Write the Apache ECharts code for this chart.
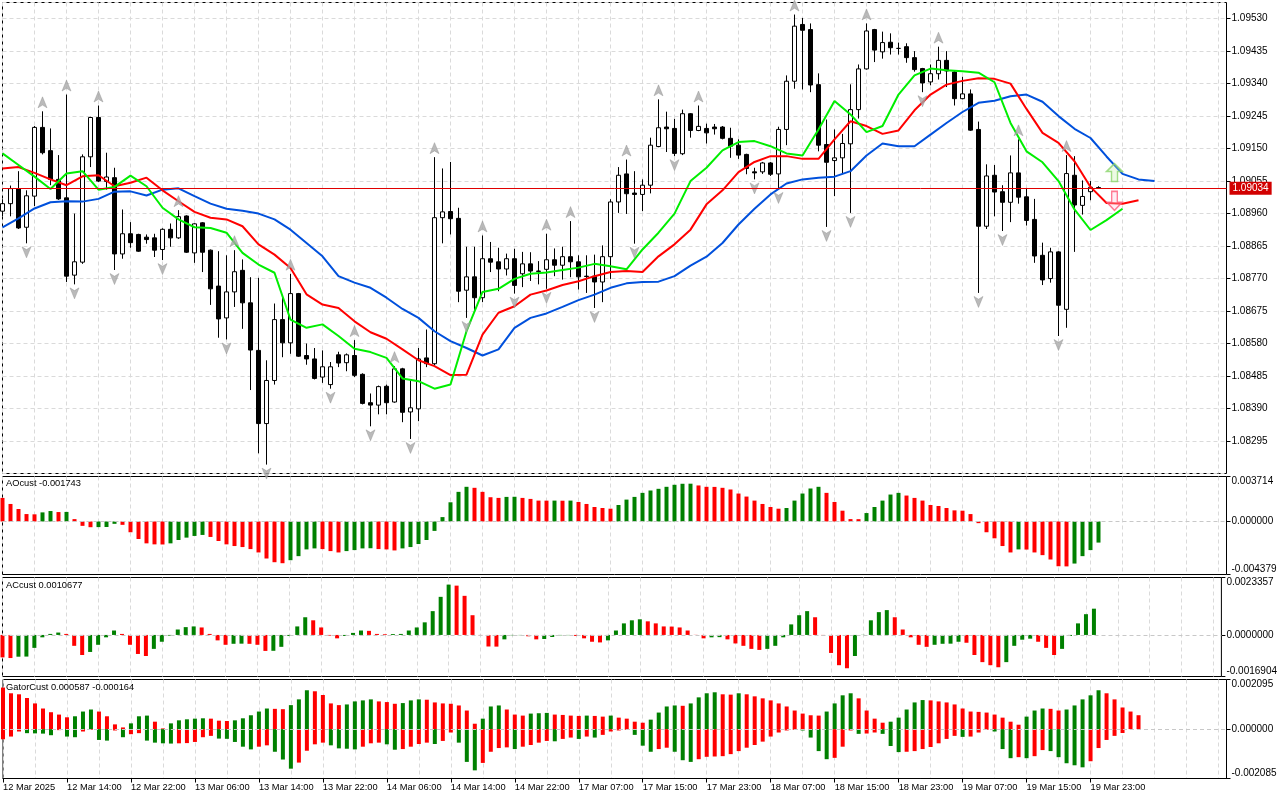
<!DOCTYPE html>
<html><head><meta charset="utf-8">
<script src="https://cdn.jsdelivr.net/npm/echarts/dist/echarts.min.js"></script>
<style>html,body{margin:0;padding:0;background:#fff}#c{width:1280px;height:800px}</style>
</head><body><div id="c"></div>
<script>
// ---------- DATA ----------
const tickLabels = ["12 Mar 2025","12 Mar 14:00","12 Mar 22:00","13 Mar 06:00","13 Mar 14:00","13 Mar 22:00",
  "14 Mar 06:00","14 Mar 14:00","14 Mar 22:00","17 Mar 07:00","17 Mar 15:00","17 Mar 23:00",
  "18 Mar 07:00","18 Mar 15:00","18 Mar 23:00","19 Mar 07:00","19 Mar 15:00","19 Mar 23:00"];

const open = [1.08967,1.08989,1.09033,1.08920,1.09011,1.09212,1.09144,1.09060,1.09006,1.08780,
1.08818,1.09126,1.09241,1.09054,1.09065,1.08842,1.08901,1.08899,1.08891,1.08889,
1.08855,1.08914,1.08889,1.08953,1.08845,1.08933,1.08853,1.08748,1.08655,1.08731,
1.08794,1.08699,1.08560,1.08346,1.08472,1.08650,1.08582,1.08726,1.08545,1.08535,
1.08482,1.08460,1.08547,1.08524,1.08545,1.08490,1.08407,1.08400,1.08455,1.08409,
1.08506,1.08380,1.08389,1.08538,1.08521,1.08948,1.08966,1.08946,1.08736,1.08775,
1.08714,1.08828,1.08819,1.08798,1.08828,1.08784,1.08813,1.08792,1.08797,1.08825,
1.08809,1.08834,1.08819,1.08777,1.08777,1.08760,1.08834,1.08994,1.09076,1.09020,
1.09016,1.09043,1.09156,1.09213,1.09209,1.09135,1.09252,1.09203,1.09209,1.09213,
1.09213,1.09180,1.09160,1.09133,1.09082,1.09082,1.09108,1.09076,1.09206,1.09347,
1.09513,1.09498,1.09337,1.09162,1.09115,1.09123,1.09164,1.09264,1.09383,1.09498,
1.09433,1.09461,1.09443,1.09448,1.09416,1.09384,1.09345,1.09369,1.09408,1.09374,
1.09296,1.09310,1.09206,1.08923,1.09072,1.09024,1.08993,1.09079,1.09009,1.08943,
1.08838,1.08770,1.08848,1.08680,1.09072,1.08984,1.09024,1.09036];
const close = [1.08989,1.09033,1.08918,1.09012,1.09212,1.09138,1.09060,1.09003,1.08777,1.08819,
1.09126,1.09241,1.09055,1.09067,1.08842,1.08901,1.08875,1.08850,1.08884,1.08853,
1.08914,1.08889,1.08951,1.08847,1.08930,1.08847,1.08740,1.08652,1.08731,1.08790,
1.08699,1.08561,1.08346,1.08472,1.08650,1.08582,1.08726,1.08543,1.08535,1.08478,
1.08512,1.08512,1.08523,1.08547,1.08487,1.08405,1.08400,1.08454,1.08407,1.08506,
1.08379,1.08392,1.08535,1.08521,1.08948,1.08965,1.08945,1.08733,1.08775,1.08714,
1.08828,1.08818,1.08798,1.08828,1.08750,1.08813,1.08792,1.08791,1.08825,1.08809,
1.08834,1.08819,1.08775,1.08776,1.08760,1.08834,1.08994,1.09072,1.09018,1.09016,
1.09043,1.09160,1.09211,1.09208,1.09136,1.09252,1.09203,1.09215,1.09196,1.09208,
1.09180,1.09157,1.09131,1.09092,1.09079,1.09108,1.09075,1.09206,1.09347,1.09508,
1.09496,1.09336,1.09160,1.09110,1.09123,1.09165,1.09264,1.09383,1.09494,1.09438,
1.09460,1.09445,1.09443,1.09416,1.09381,1.09342,1.09369,1.09408,1.09377,1.09296,
1.09310,1.09204,1.08923,1.09070,1.09023,1.08993,1.09079,1.09008,1.08940,1.08836,
1.08766,1.08848,1.08692,1.09077,1.08985,1.09010,1.09037,1.09034];
const low = [1.08952,1.08952,1.08915,1.08873,1.08982,1.09133,1.09043,1.09000,1.08760,1.08753,
1.08813,1.09096,1.09052,1.09030,1.08795,1.08828,1.08860,1.08848,1.08872,1.08833,
1.08824,1.08863,1.08886,1.08845,1.08816,1.08789,1.08693,1.08597,1.08592,1.08687,
1.08623,1.08444,1.08259,1.08226,1.08460,1.08540,1.08550,1.08541,1.08518,1.08475,
1.08465,1.08448,1.08511,1.08499,1.08482,1.08402,1.08338,1.08373,1.08373,1.08407,
1.08350,1.08301,1.08353,1.08511,1.08516,1.08873,1.08899,1.08701,1.08655,1.08670,
1.08701,1.08789,1.08733,1.08779,1.08726,1.08745,1.08763,1.08753,1.08740,1.08777,
1.08767,1.08774,1.08738,1.08728,1.08684,1.08701,1.08769,1.08962,1.08959,1.08872,
1.08967,1.09019,1.09154,1.09140,1.09128,1.09131,1.09182,1.09201,1.09165,1.09191,
1.09177,1.09123,1.09120,1.09075,1.09060,1.09076,1.09070,1.09032,1.09160,1.09325,
1.09323,1.09315,1.09142,1.08921,1.09011,1.09075,1.08962,1.09238,1.09381,1.09403,
1.09413,1.09425,1.09425,1.09401,1.09375,1.09315,1.09335,1.09352,1.09330,1.09276,
1.09294,1.09202,1.08728,1.08915,1.08952,1.08909,1.08935,1.08989,1.08925,1.08816,
1.08751,1.08758,1.08602,1.08626,1.08848,1.08957,1.08999,1.09032];
const high = [1.09002,1.09042,1.09084,1.09028,1.09216,1.09259,1.09209,1.09131,1.09308,1.08960,
1.09133,1.09243,1.09276,1.09138,1.09094,1.08972,1.08935,1.08901,1.08899,1.08901,
1.08917,1.08931,1.08970,1.08955,1.08932,1.08935,1.08855,1.08850,1.08838,1.08853,
1.08826,1.08774,1.08772,1.08531,1.08697,1.08719,1.08784,1.08728,1.08580,1.08567,
1.08560,1.08526,1.08556,1.08551,1.08590,1.08493,1.08434,1.08457,1.08460,1.08514,
1.08509,1.08475,1.08567,1.08621,1.09125,1.09092,1.09111,1.08977,1.08863,1.08863,
1.08896,1.08877,1.08860,1.08843,1.08857,1.08848,1.08847,1.08821,1.08901,1.08858,
1.08863,1.08938,1.08838,1.08838,1.08840,1.08867,1.09002,1.09096,1.09118,1.09084,
1.09060,1.09182,1.09294,1.09258,1.09237,1.09264,1.09254,1.09276,1.09223,1.09222,
1.09216,1.09211,1.09177,1.09135,1.09094,1.09111,1.09111,1.09214,1.09364,1.09542,
1.09532,1.09516,1.09370,1.09235,1.09206,1.09193,1.09338,1.09396,1.09516,1.09500,
1.09492,1.09487,1.09460,1.09458,1.09435,1.09386,1.09396,1.09448,1.09435,1.09377,
1.09360,1.09323,1.09229,1.09104,1.09102,1.09043,1.09130,1.09177,1.09035,1.09003,
1.08875,1.08860,1.08850,1.09131,1.09128,1.09057,1.09055,1.09040];

// Alligator lines, one value every second bar (bar 0, 2, 4, ...)
const lips = [1.09136,1.09102,1.09068,1.09032,1.09077,1.09084,1.09030,1.09038,1.09071,1.09040,
1.08977,1.08943,1.08920,1.08918,1.08904,1.08845,1.08811,1.08787,1.08650,1.08626,
1.08636,1.08602,1.08565,1.08555,1.08538,1.08478,1.08470,1.08448,1.08460,1.08616,
1.08731,1.08740,1.08769,1.08784,1.08788,1.08795,1.08802,1.08813,1.08806,1.08797,
1.08855,1.08904,1.08960,1.09055,1.09094,1.09145,1.09169,1.09172,1.09157,1.09136,
1.09130,1.09206,1.09289,1.09250,1.09198,1.09216,1.09308,1.09364,1.09384,1.09379,
1.09376,1.09372,1.09344,1.09225,1.09142,1.09110,1.09055,1.08972,1.08912,1.08941,1.08974];
const teeth = [1.09092,1.09096,1.09079,1.09060,1.09043,1.09069,1.09072,1.09040,1.09050,1.09065,
1.09028,1.08996,1.08965,1.08948,1.08943,1.08923,1.08870,1.08840,1.08801,1.08724,
1.08694,1.08684,1.08645,1.08613,1.08594,1.08563,1.08531,1.08514,1.08488,1.08489,
1.08606,1.08670,1.08689,1.08723,1.08735,1.08751,1.08762,1.08777,1.08789,1.08792,
1.08789,1.08835,1.08870,1.08913,1.08987,1.09028,1.09081,1.09111,1.09128,1.09128,
1.09120,1.09120,1.09177,1.09230,1.09216,1.09193,1.09203,1.09262,1.09308,1.09337,
1.09348,1.09356,1.09354,1.09340,1.09266,1.09196,1.09167,1.09113,1.09038,1.08991,1.08989,1.08999];
const jaw = [1.08920,1.08946,1.08975,1.08993,1.08996,1.08995,1.09003,1.09024,1.09025,1.09013,
1.09030,1.09034,1.09011,1.08989,1.08974,1.08968,1.08960,1.08943,1.08913,1.08874,
1.08835,1.08777,1.08758,1.08743,1.08714,1.08681,1.08655,1.08616,1.08587,1.08567,
1.08545,1.08563,1.08626,1.08655,1.08668,1.08687,1.08707,1.08723,1.08743,1.08756,
1.08760,1.08761,1.08777,1.08808,1.08834,1.08874,1.08928,1.08974,1.09016,1.09048,
1.09060,1.09065,1.09068,1.09084,1.09130,1.09165,1.09157,1.09157,1.09191,1.09225,
1.09257,1.09284,1.09290,1.09303,1.09308,1.09287,1.09245,1.09208,1.09181,1.09127,
1.09076,1.09060,1.09055];

const fractalUp = [5,8,12,22,29,36,44,49,54,60,68,71,78,82,87,99,108,117,127,133];
const fractalDown = [3,9,14,20,28,33,41,46,51,58,64,68,74,79,84,94,97,103,106,115,122,125,132];

const lastPrice = 1.09034;
const signalUp = [139, 1.09080];
const signalDown = [139, 1.08997];

const ao = [0.001946,0.001446,0.001029,0.000612,0.000590,0.000751,0.000862,0.000778,0.000790,0.000195,
-0.000361,-0.000473,-0.000465,-0.000455,-0.000195,-0.000278,-0.000890,-0.001446,-0.001807,-0.001890,
-0.001900,-0.001807,-0.001529,-0.001334,-0.001195,-0.001112,-0.001279,-0.001612,-0.001890,-0.002029,
-0.002113,-0.002280,-0.002558,-0.003058,-0.003364,-0.003447,-0.003197,-0.002863,-0.002307,-0.002224,
-0.002280,-0.002446,-0.002558,-0.002446,-0.002363,-0.002224,-0.002210,-0.002280,-0.002307,-0.002391,
-0.002224,-0.002113,-0.001863,-0.001529,-0.000778,0.000361,0.001585,0.002446,0.002863,0.002780,
0.002446,0.002002,0.001946,0.002029,0.002040,0.001946,0.001863,0.001724,0.001720,0.001724,
0.001715,0.001724,0.001612,0.001446,0.001195,0.001112,0.001056,0.001362,0.001807,0.002029,
0.002363,0.002558,0.002697,0.002863,0.003030,0.003114,0.003120,0.002975,0.002863,0.002855,
0.002780,0.002641,0.002307,0.002057,0.001724,0.001446,0.001195,0.001056,0.001112,0.001724,
0.002307,0.002724,0.002863,0.002363,0.001612,0.000890,0.000195,0.000190,0.000695,0.001195,
0.001724,0.002224,0.002363,0.002141,0.001946,0.001724,0.001362,0.001279,0.001112,0.000917,
0.000890,0.000612,-0.000139,-0.000890,-0.001390,-0.002029,-0.002558,-0.002307,-0.002320,-0.002558,
-0.002780,-0.003141,-0.003697,-0.003710,-0.003475,-0.002863,-0.002363,-0.001743];

const ac = [-0.000913,-0.000940,-0.000885,-0.000880,-0.000526,-0.000097,0.000041,0.000097,0.000041,-0.000443,
-0.000816,-0.000692,-0.000401,-0.000097,0.000180,0.000041,-0.000401,-0.000774,-0.000857,-0.000567,
-0.000277,-0.000028,0.000221,0.000318,0.000346,0.000304,0.000041,-0.000221,-0.000401,-0.000360,
-0.000355,-0.000362,-0.000401,-0.000650,-0.000645,-0.000484,-0.000041,0.000346,0.000719,0.000595,
0.000304,-0.000028,-0.000138,-0.000041,0.000083,0.000180,0.000166,0.000041,0.000028,0.000035,
0.000041,0.000180,0.000304,0.000512,0.000968,0.001549,0.002047,0.002005,0.001590,0.000802,
-0.000014,-0.000470,-0.000475,-0.000180,-0.000014,-0.000010,-0.000055,-0.000180,-0.000166,-0.000083,
-0.000014,-0.000010,-0.000041,-0.000138,-0.000277,-0.000304,-0.000221,0.000180,0.000470,0.000595,
0.000636,0.000553,0.000470,0.000346,0.000340,0.000304,0.000180,0.000005,-0.000138,-0.000097,
-0.000090,-0.000180,-0.000346,-0.000443,-0.000567,-0.000609,-0.000567,-0.000443,-0.000097,0.000429,
0.000802,0.000968,0.000719,-0.000014,-0.000733,-0.001231,-0.001355,-0.000857,0.000005,0.000595,
0.000927,0.001010,0.000719,0.000221,-0.000097,-0.000401,-0.000484,-0.000401,-0.000360,-0.000355,
-0.000277,-0.000318,-0.000816,-0.001106,-0.001231,-0.001314,-0.001106,-0.000443,-0.000194,-0.000152,
-0.000277,-0.000526,-0.000816,-0.000567,-0.000041,0.000470,0.000844,0.0010677];

const gatorUp = [0.001755,0.001513,0.001470,0.001313,0.001085,0.000870,0.000714,0.000614,0.000499,0.000542,
0.000742,0.000828,0.000742,0.000542,0.000200,0.000071,0.000243,0.000542,0.000571,0.000314,
0.000029,0.000243,0.000371,0.000414,0.000442,0.000457,0.000442,0.000357,0.000342,0.000371,
0.000457,0.000585,0.000742,0.000870,0.000856,0.000842,0.001013,0.001256,0.001641,0.001598,
0.001441,0.001085,0.001013,0.001042,0.001170,0.001213,0.001256,0.001170,0.001142,0.001070,
0.001099,0.001213,0.001256,0.001241,0.001127,0.001085,0.001070,0.000999,0.000785,0.000228,
0.000442,0.000956,0.000999,0.000828,0.000614,0.000571,0.000656,0.000671,0.000685,0.000614,
0.000599,0.000571,0.000557,0.000571,0.000557,0.000528,0.000571,0.000485,0.000442,0.000314,
0.000271,0.000400,0.000699,0.000956,0.000999,0.000985,0.001085,0.001341,0.001513,0.001555,
0.001470,0.001456,0.001513,0.001470,0.001384,0.001299,0.001213,0.001085,0.000956,0.000785,
0.000656,0.000585,0.000571,0.000742,0.001085,0.001427,0.001513,0.001299,0.000785,0.000442,
0.000271,0.000314,0.000485,0.000828,0.001127,0.001227,0.001213,0.001170,0.001127,0.001042,
0.000870,0.000742,0.000728,0.000699,0.000614,0.000485,0.000314,0.000186,0.000528,0.000785,
0.000870,0.000856,0.000785,0.000828,0.000999,0.001256,0.001427,0.001641,0.001513,0.001256,
0.000913,0.000742,0.000587];

const gatorDown = [-0.000428,-0.000314,-0.000100,-0.000171,-0.000180,-0.000190,-0.000257,-0.000043,-0.000314,-0.000342,
-0.000100,-0.000029,-0.000457,-0.000485,-0.000057,-0.000342,-0.000214,-0.000171,-0.000485,-0.000571,
-0.000599,-0.000610,-0.000600,-0.000590,-0.000542,-0.000342,-0.000285,-0.000400,-0.000410,-0.000542,
-0.000742,-0.000856,-0.000742,-0.000685,-0.000956,-0.001284,-0.001670,-0.001413,-0.000913,-0.000642,
-0.000571,-0.000685,-0.000813,-0.000828,-0.000856,-0.000742,-0.000599,-0.000571,-0.000642,-0.000870,
-0.000842,-0.000742,-0.000628,-0.000571,-0.000628,-0.000499,-0.000143,-0.000571,-0.001384,-0.001741,
-0.001427,-0.000956,-0.000799,-0.000771,-0.000842,-0.000742,-0.000671,-0.000571,-0.000499,-0.000514,
-0.000414,-0.000357,-0.000414,-0.000314,-0.000357,-0.000243,-0.000100,-0.000057,-0.000029,-0.000243,
-0.000699,-0.000956,-0.000842,-0.000785,-0.000956,-0.001313,-0.001384,-0.001270,-0.001170,-0.001156,
-0.001142,-0.001056,-0.000928,-0.000785,-0.000671,-0.000528,-0.000314,-0.000143,-0.000057,-0.000029,
-0.000057,-0.000357,-0.000928,-0.001270,-0.001213,-0.000742,-0.000057,-0.000200,-0.000186,-0.000143,
-0.000200,-0.000714,-0.000970,-0.000956,-0.000928,-0.000842,-0.000756,-0.000599,-0.000414,-0.000285,
-0.000328,-0.000314,-0.000143,-0.000029,-0.000100,-0.000842,-0.001227,-0.001184,-0.001227,-0.001142,
-0.000885,-0.000928,-0.001184,-0.001441,-0.001527,-0.001613,-0.001356,-0.000799,-0.000457,-0.000285,
-0.000164];

const aoRange = [-0.004379, 0.003714];
const acRange = [-0.0016904, 0.0023357];
const gatorRange = [-0.002085, 0.002095];

// ---------- BUILD ----------
const N = 154;
const cats = Array.from({length: N}, (_, i) => String(i));
const GREEN = '#008000', RED = '#ff0000';
const FONT = 'Liberation Sans, Arial, sans-serif';

function colorize(arr, absMode) {
  return arr.map((v, i) => {
    let up = false;
    if (i > 0) up = absMode ? Math.abs(v) > Math.abs(arr[i - 1]) : v > arr[i - 1];
    return { value: v, itemStyle: { color: up ? GREEN : RED } };
  });
}
function sparse(arr) {
  const d = new Array(N).fill(null);
  arr.forEach((v, i) => { d[2 * i] = v; });
  return d;
}
const vgrid = (idx) => idx % 4 === 0;
const gridLine = { show: true, interval: vgrid, lineStyle: { type: [4, 3], color: '#dadada', width: 1 } };
const labelIdx = (i) => i % 8 === 0 && i / 8 < tickLabels.length;

const grids = [
  { left: 2.5, top: 2.5, width: 1224, height: 471 },
  { left: 2.5, top: 476.5, width: 1224, height: 98 },
  { left: 2.5, top: 577.5, width: 1224, height: 99 },
  { left: 2.5, top: 679.5, width: 1224, height: 99 }
].map(g => Object.assign({ show: true, borderColor: '#000', borderWidth: 1, backgroundColor: 'transparent' }, g));

const xAxes = grids.map((g, gi) => ({
  type: 'category', gridIndex: gi, data: cats, boundaryGap: false,
  axisLine: { show: gi === 3, onZero: false, lineStyle: { color: '#000' } },
  axisTick: { show: gi === 3, interval: labelIdx, length: 4, lineStyle: { color: '#000' } },
  axisLabel: {
    show: gi === 3, interval: labelIdx,
    formatter: (v) => tickLabels[Math.round(Number(v) / 8)] || '',
    align: 'left', fontSize: 9.3, color: '#000', margin: 4, fontFamily: FONT
  },
  splitLine: gridLine
}));

function subAxis(gi, range, dec) {
  const vals = [range[0], 0, range[1]];
  return {
    type: 'value', gridIndex: gi, position: 'right', min: range[0], max: range[1],
    axisLine: { show: false },
    axisTick: { show: true, length: 4, customValues: vals, lineStyle: { color: '#000' } },
    axisLabel: {
      customValues: vals, formatter: (v) => v.toFixed(dec), fontSize: 10, color: '#000', margin: 5,
      fontFamily: FONT, verticalAlignMinLabel: 'bottom', verticalAlignMaxLabel: 'top'
    },
    splitLine: { show: false }
  };
}

const yAxes = [
  {
    type: 'value', gridIndex: 0, position: 'right', min: 1.082, max: 1.095772, interval: 0.00095,
    axisLine: { show: false },
    axisTick: { show: true, length: 4, lineStyle: { color: '#000' } },
    axisLabel: { showMinLabel: false, showMaxLabel: false, formatter: (v) => v.toFixed(5),
      fontSize: 10, color: '#000', margin: 5, fontFamily: FONT },
    splitLine: { show: true, lineStyle: { type: [4, 3], color: '#dadada', width: 1 } }
  },
  subAxis(1, aoRange, 6),
  subAxis(2, acRange, 7),
  subAxis(3, gatorRange, 6)
];

const zeroLine = {
  silent: true, symbol: 'none', label: { show: false }, precision: 8,
  lineStyle: { type: [4, 3], color: '#c8c8c8', width: 1 },
  data: [{ yAxis: 0 }]
};

const upArrow = 'path://M5,0 L10,12 L5,9 L0,12 Z';
const downArrow = 'path://M0,0 L5,3 L10,0 L5,12 Z';

const series = [
  {
    type: 'candlestick', xAxisIndex: 0, yAxisIndex: 0, barWidth: 4,
    data: open.map((o, i) => [o, close[i], low[i], high[i]]),
    itemStyle: { color: '#fff', color0: '#000', borderColor: '#000', borderColor0: '#000', borderColorDoji: '#000', borderWidth: 1 },
    z: 2
  },
  { type: 'line', name: 'jaw', xAxisIndex: 0, yAxisIndex: 0, data: sparse(jaw), connectNulls: true,
    symbol: 'none', lineStyle: { color: '#0050dc', width: 2 }, z: 3,
    markLine: {
      silent: true, symbol: 'none', precision: 5,
      lineStyle: { color: '#e00000', width: 1, type: 'solid' },
      label: { show: true, position: 'end', formatter: lastPrice.toFixed(5), color: '#fff',
        backgroundColor: '#d20000', padding: [2, 3, 1, 3], fontSize: 10, distance: 3, fontFamily: FONT },
      data: [{ yAxis: lastPrice }]
    }
  },
  { type: 'line', name: 'teeth', xAxisIndex: 0, yAxisIndex: 0, data: sparse(teeth), connectNulls: true,
    symbol: 'none', lineStyle: { color: '#ff0000', width: 2 }, z: 3 },
  { type: 'line', name: 'lips', xAxisIndex: 0, yAxisIndex: 0, data: sparse(lips), connectNulls: true,
    symbol: 'none', lineStyle: { color: '#00ee00', width: 2 }, z: 3 },
  { type: 'scatter', xAxisIndex: 0, yAxisIndex: 0, symbol: upArrow, symbolSize: [9, 11], symbolOffset: [0, -9],
    data: fractalUp.map(k => [k, high[k]]), itemStyle: { color: '#a9a9a9', borderColor: '#8c8c8c', borderWidth: 0.5 }, z: 4 },
  { type: 'scatter', xAxisIndex: 0, yAxisIndex: 0, symbol: downArrow, symbolSize: [9, 11], symbolOffset: [0, 9],
    data: fractalDown.map(k => [k, low[k]]), itemStyle: { color: '#a9a9a9', borderColor: '#8c8c8c', borderWidth: 0.5 }, z: 4 },
  { type: 'scatter', xAxisIndex: 0, yAxisIndex: 0,
    symbol: 'path://M8,0 L16,8 L11,8 L11,18 L5,18 L5,8 L0,8 Z', symbolSize: [16, 18],
    data: [signalUp], itemStyle: { color: 'rgba(200,240,170,0.4)', borderColor: '#8ad46a', borderWidth: 1.5 }, z: 5 },
  { type: 'scatter', xAxisIndex: 0, yAxisIndex: 0,
    symbol: 'path://M5,0 L11,0 L11,11 L16,11 L8,19 L0,11 L5,11 Z', symbolSize: [15, 19],
    data: [signalDown], itemStyle: { color: 'rgba(255,200,220,0.4)', borderColor: '#ff5a78', borderWidth: 1.5 }, z: 5 },
  { type: 'bar', xAxisIndex: 1, yAxisIndex: 1, barWidth: 4, data: colorize(ao, false), markLine: zeroLine },
  { type: 'bar', xAxisIndex: 2, yAxisIndex: 2, barWidth: 4, data: colorize(ac, false), markLine: zeroLine },
  { type: 'bar', xAxisIndex: 3, yAxisIndex: 3, barWidth: 4, barGap: '-100%', data: colorize(gatorUp, false), markLine: zeroLine },
  { type: 'bar', xAxisIndex: 3, yAxisIndex: 3, barWidth: 4, barGap: '-100%', data: colorize(gatorDown, true) }
];

const titleStyle = { fontSize: 9.3, fontWeight: 'normal', color: '#000', fontFamily: FONT };
const option = {
  animation: false,
  backgroundColor: '#fff',
  textStyle: { fontFamily: FONT },
  title: [
    { text: 'AOcust ' + ao[ao.length - 1].toFixed(6), left: 6, top: 479, padding: 0, textStyle: titleStyle },
    { text: 'ACcust ' + ac[ac.length - 1].toFixed(7), left: 6, top: 581, padding: 0, textStyle: titleStyle },
    { text: 'GatorCust ' + gatorUp[gatorUp.length - 1].toFixed(6) + ' ' + gatorDown[gatorDown.length - 1].toFixed(6),
      left: 6, top: 683, padding: 0, textStyle: titleStyle }
  ],
  grid: grids,
  xAxis: xAxes,
  yAxis: yAxes,
  series: series
};
const chart = echarts.init(document.getElementById('c'), null, { renderer: 'canvas' });
chart.setOption(option);
</script></body></html>
